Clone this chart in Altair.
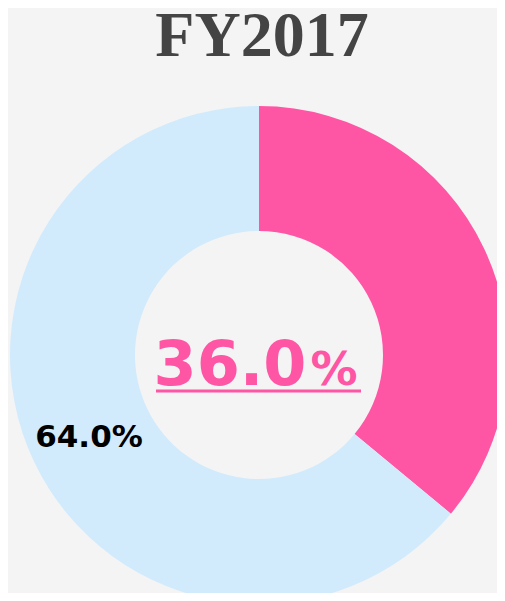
import altair as alt
import pandas as pd

categories = ["FY2017", "Other"]
values = [36.0, 64.0]
order = [0, 1]
colors = ["#FF55A5", "#D2EBFC"]
title_text = "FY2017"

df = pd.DataFrame({"category": categories, "value": values, "order": order})

W, H = 489, 585
CX, CY = 251, 347

arc = alt.Chart(df).mark_arc(outerRadius=249, innerRadius=124, x=CX, y=CY).encode(
    theta=alt.Theta("value:Q", stack=True),
    color=alt.Color("category:N", scale=alt.Scale(domain=categories, range=colors), legend=None),
    order=alt.Order("order:Q"),
)

title_df = pd.DataFrame({"t": [title_text]})
title = alt.Chart(title_df).mark_text(
    font="Liberation Serif", fontWeight="bold", fontSize=64, color="#444444",
    align="center", baseline="alphabetic"
).encode(text="t:N", x=alt.value(254), y=alt.value(48))

center_df = pd.DataFrame({"num": [f"{values[0]:.1f}"], "pct": ["%"]})
center_num = alt.Chart(center_df).mark_text(
    font="DejaVu Sans", fontWeight="bold", fontSize=62, color=colors[0],
    align="center", baseline="alphabetic"
).encode(text="num:N", x=alt.value(222), y=alt.value(377))
center_pct = alt.Chart(center_df).mark_text(
    font="DejaVu Sans", fontWeight="bold", fontSize=47, color=colors[0],
    align="center", baseline="alphabetic"
).encode(text="pct:N", x=alt.value(326), y=alt.value(377))
underline = alt.Chart(center_df).mark_rule(color=colors[0], strokeWidth=3).encode(
    x=alt.value(148), x2=alt.value(353), y=alt.value(383)
)

label_df = pd.DataFrame({"lab": [f"{values[1]:.1f}%"]})
label = alt.Chart(label_df).mark_text(
    font="DejaVu Sans", fontWeight="bold", fontSize=31, color="#000000",
    align="center", baseline="alphabetic"
).encode(text="lab:N", x=alt.value(81), y=alt.value(439))

chart = alt.layer(arc, title, center_num, center_pct, underline, label).properties(
    width=W, height=H, autosize=alt.AutoSizeParams(type="none"), padding=0,
    background="#F4F4F4"
).configure_view(stroke=None)

chart.save("out.html", embed_options={"renderer": "svg", "actions": False})
